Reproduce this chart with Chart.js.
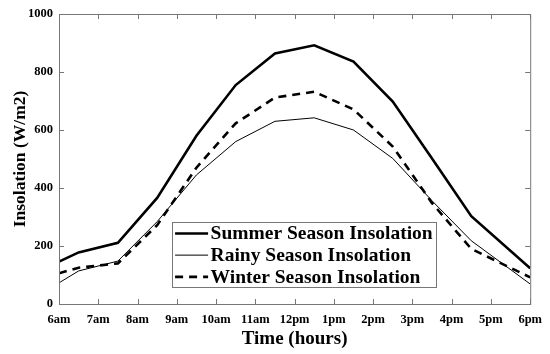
<!DOCTYPE html>
<html>
<head>
<meta charset="utf-8">
<script src="https://cdn.jsdelivr.net/npm/chart.js@4.4.1/dist/chart.umd.min.js"></script>
<style>
  html, body { margin: 0; padding: 0; background: #fff; }
  #wrap { width: 550px; height: 354px; position: relative; }
</style>
</head>
<body>
<div id="wrap"><canvas id="insolationChart"></canvas></div>
<script>
// time of day (hours, 24h clock)
const hours = [6, 6.5, 7.5, 8.5, 9.5, 10.5, 11.5, 12.5, 13.5, 14.5, 15.5, 16.5, 18];
const summerValues = [146, 178, 211, 366, 580, 755, 864, 892, 836, 698, 502, 303, 123];
const rainyValues = [73, 114, 148, 284, 445, 560, 630, 642, 600, 502, 356, 218, 69];
const winterValues = [106, 125, 140, 272, 470, 623, 712, 732, 671, 543, 348, 190, 92];
const seriesLabels = ["Summer Season Insolation", "Rainy Season Insolation", "Winter Season Insolation"];
const yTicks = [0, 200, 400, 600, 800, 1000];

const serif = "'Liberation Serif', 'Times New Roman', serif";

function hourLabel(h) {
    if (h < 12) return h + "am";
    if (h === 12) return "12pm";
    return (h - 12) + "pm";
}

function toPoints(values) {
    return hours.map((h, i) => ({ x: h, y: values[i] }));
}

// box around the plot with inward ticks on all four sides
const framePlugin = {
    id: "frame",
    afterDatasetsDraw(chart) {
        const ctx = chart.ctx;
        const area = chart.chartArea;
        const xs = chart.scales.x;
        const ys = chart.scales.y;
        const len = 5;
        ctx.save();
        ctx.strokeStyle = "#777";
        ctx.lineWidth = 1;
        ctx.strokeRect(area.left + 0.5, area.top + 0.5, area.right - area.left, area.bottom - area.top);
        ctx.beginPath();
        for (let h = 6; h <= 18; h++) {
            const px = Math.round(xs.getPixelForValue(h)) + 0.5;
            ctx.moveTo(px, area.bottom);
            ctx.lineTo(px, area.bottom - len);
            ctx.moveTo(px, area.top);
            ctx.lineTo(px, area.top + len);
        }
        yTicks.forEach(v => {
            const py = Math.round(ys.getPixelForValue(v)) + 0.5;
            ctx.moveTo(area.left, py);
            ctx.lineTo(area.left + len, py);
            ctx.moveTo(area.right, py);
            ctx.lineTo(area.right - len, py);
        });
        ctx.stroke();
        ctx.restore();
    }
};

// legend box drawn inside the plot area
const legendPlugin = {
    id: "innerLegend",
    afterDraw(chart) {
        const ctx = chart.ctx;
        const area = chart.chartArea;
        const w = area.right - area.left;
        const h = area.bottom - area.top;
        const left = area.left + w * 0.24;
        const top = area.top + h * 0.717;
        const boxW = 264;
        const boxH = 65;
        ctx.save();
        ctx.fillStyle = "#fff";
        ctx.fillRect(left, top, boxW, boxH);
        ctx.strokeStyle = "#777";
        ctx.lineWidth = 1;
        ctx.strokeRect(Math.round(left) + 0.5, Math.round(top) + 0.5, boxW, boxH);
        ctx.font = "bold 19.5px " + serif;
        ctx.textBaseline = "middle";
        ctx.fillStyle = "#000";
        chart.data.datasets.forEach((ds, i) => {
            const y = top + 11.5 + i * 21.7;
            ctx.beginPath();
            ctx.lineWidth = ds.borderWidth;
            ctx.setLineDash(ds.borderDash || []);
            ctx.strokeStyle = ds.borderColor;
            ctx.moveTo(left + 3, y);
            ctx.lineTo(left + 36, y);
            ctx.stroke();
            ctx.setLineDash([]);
            ctx.fillText(ds.label, left + 38.5, y + 1);
        });
        ctx.restore();
    }
};

new Chart(document.getElementById("insolationChart"), {
    type: "line",
    data: {
        datasets: [
            {
                label: seriesLabels[0],
                data: toPoints(summerValues),
                borderColor: "#000",
                borderWidth: 2.6,
                pointRadius: 0,
                tension: 0
            },
            {
                label: seriesLabels[1],
                data: toPoints(rainyValues),
                borderColor: "#000",
                borderWidth: 1,
                pointRadius: 0,
                tension: 0
            },
            {
                label: seriesLabels[2],
                data: toPoints(winterValues),
                borderColor: "#000",
                borderWidth: 2.6,
                borderDash: [8, 6],
                pointRadius: 0,
                tension: 0
            }
        ]
    },
    options: {
        responsive: true,
        maintainAspectRatio: false,
        animation: false,
        layout: { padding: { top: 14, right: 17, left: 0, bottom: 0 } },
        plugins: {
            legend: { display: false },
            tooltip: { enabled: false }
        },
        scales: {
            x: {
                type: "linear",
                min: 6,
                max: 18,
                afterFit(scale) { scale.height = 50; },
                afterBuildTicks(scale) {
                    scale.ticks = [];
                    for (let h = 6; h <= 18; h++) scale.ticks.push({ value: h });
                },
                grid: { display: false, drawTicks: false },
                border: { display: false },
                ticks: {
                    padding: 8,
                    color: "#000",
                    font: { family: serif, weight: "bold", size: 12.5 },
                    maxRotation: 0,
                    autoSkip: false,
                    callback: v => hourLabel(v)
                },
                title: {
                    display: true,
                    text: "Time (hours)",
                    color: "#000",
                    font: { family: serif, weight: "bold", size: 19 },
                    padding: { top: 4, bottom: 4 }
                }
            },
            y: {
                min: 0,
                max: 1000,
                afterFit(scale) { scale.width = 59; },
                afterBuildTicks(scale) {
                    scale.ticks = yTicks.map(v => ({ value: v }));
                },
                grid: { display: false, drawTicks: false },
                border: { display: false },
                ticks: {
                    padding: 6,
                    color: "#000",
                    font: { family: serif, weight: "bold", size: 12.5 },
                    callback: v => String(v)
                },
                title: {
                    display: true,
                    text: "Insolation (W/m2)",
                    color: "#000",
                    font: { family: serif, weight: "bold", size: 17.5 },
                    padding: { top: 10, bottom: 2 }
                }
            }
        }
    },
    plugins: [framePlugin, legendPlugin]
});
</script>
</body>
</html>
